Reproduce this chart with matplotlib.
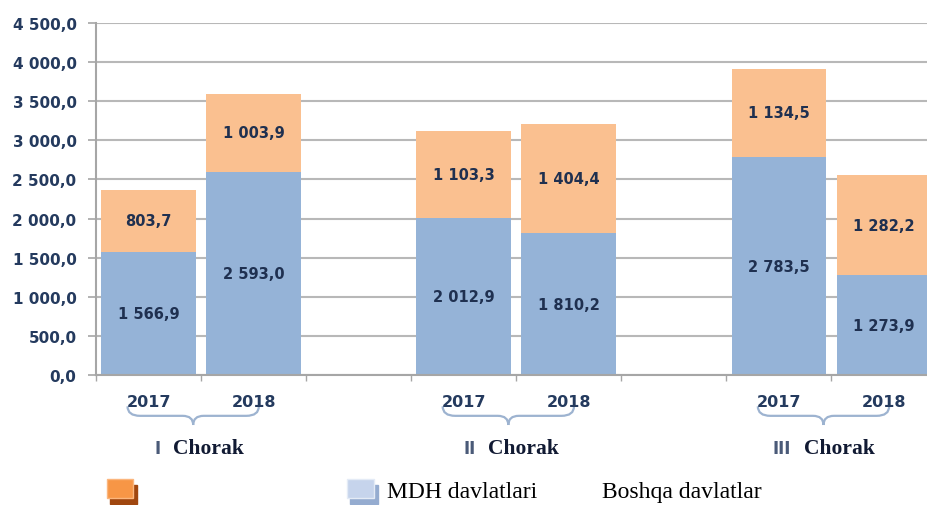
import matplotlib.pyplot as plt
from matplotlib.path import Path
from matplotlib.patches import PathPatch, Rectangle
import numpy as np

# data
quarters = ["I", "II", "III"]
years = ["2017", "2018"]
mdh = [1566.9, 2593.0, 2012.9, 1810.2, 2783.5, 1273.9]
boshqa = [803.7, 1003.9, 1103.3, 1404.4, 1134.5, 1282.2]
slots = [0, 1, 3, 4, 6, 7]
yticks = np.arange(0, 4501, 500)

blue = "#95B3D7"
orange = "#FAC090"
navy = "#1F3050"


def fmt(v):
    s = f"{v:,.1f}".replace(",", " ").replace(".", ",")
    return s


fig = plt.figure(figsize=(9.28, 5.06), dpi=100)
W, H = 928, 506
ax = fig.add_axes([96 / W, 130 / H, (928 - 96) / W, 352 / H])

ax.bar(slots, mdh, width=0.9, color=blue, zorder=2)
ax.bar(slots, boshqa, width=0.9, bottom=mdh, color=orange, zorder=2)

for x, a, b in zip(slots, mdh, boshqa):
    ax.text(x, a / 2, fmt(a), ha="center", va="center", fontsize=10.5,
            fontweight="bold", color=navy, zorder=3)
    ax.text(x, a + b / 2, fmt(b), ha="center", va="center", fontsize=10.5,
            fontweight="bold", color=navy, zorder=3)

ax.set_xlim(-0.5, 7.42)
ax.set_ylim(0, 4500)
ax.set_yticks(yticks)
ax.set_yticklabels([fmt(v) for v in yticks], fontsize=11, fontweight="bold",
                   color="#243A5E")
ax.yaxis.grid(True, color="#B8B8B8", lw=1.5, zorder=0)
ax.set_axisbelow(True)
ax.tick_params(axis="y", length=6, width=1.2, color="#A6A6A6", pad=8)
ax.set_xticks(np.arange(-0.5, 7.5, 1))
ax.set_xticklabels([])
ax.tick_params(axis="x", length=4, width=1, color="#A6A6A6")
for s in ["top", "right"]:
    ax.spines[s].set_visible(False)
ax.spines["left"].set_color("#A6A6A6")
ax.spines["left"].set_linewidth(1.5)
ax.spines["bottom"].set_color("#A6A6A6")
ax.spines["bottom"].set_linewidth(1.5)

tr = ax.get_xaxis_transform()
for i, q in enumerate(quarters):
    c0 = slots[2 * i]
    c1 = slots[2 * i + 1]
    for c, y in zip([c0, c1], years):
        ax.text(c, -0.074, y, transform=tr, ha="center", va="center",
                fontsize=11.5, fontweight="bold", color="#243A5E", clip_on=False)
    # curly brace under the years
    x0, x1 = c0 - 0.2, c1 + 0.05
    xm = (x0 + x1) / 2
    ya, yb, yc = -0.089, -0.116, -0.142
    verts = [(x0, ya), (x0, yb), (x0 + 0.12, yb), (xm - 0.1, yb), (xm, yb), (xm, yc),
             (xm, yb), (xm + 0.1, yb), (x1 - 0.12, yb), (x1, yb), (x1, ya)]
    codes = [Path.MOVETO, Path.CURVE3, Path.CURVE3, Path.LINETO, Path.CURVE3, Path.CURVE3,
             Path.MOVETO, Path.CURVE3, Path.CURVE3, Path.CURVE3, Path.CURVE3]
    verts[6:] = [(xm, yc), (xm, yb), (xm + 0.1, yb), (x1 - 0.12, yb), (x1, yb), (x1, ya)]
    codes[6:] = [Path.MOVETO, Path.CURVE3, Path.CURVE3, Path.LINETO, Path.CURVE3, Path.CURVE3]
    brace = PathPatch(Path(verts, codes), transform=tr, fill=False,
                      edgecolor="#9DB3D0", lw=1.6, clip_on=False)
    ax.add_patch(brace)
    ax.text(xm - 0.31, -0.207, q, transform=tr, ha="right", va="center",
            fontsize=12, fontweight="bold", color="#4A5A78", clip_on=False)
    ax.text(xm - 0.19, -0.207, "Chorak", transform=tr, ha="left", va="center",
            fontsize=15.5, fontweight="bold", family="Liberation Serif",
            color="#111A33", clip_on=False)

# legend-like row at the bottom
fig.patches.append(Rectangle((110 / W, (506 - 505) / H), 27 / W, 19 / H,
                             transform=fig.transFigure, color="#A0470F"))
fig.patches.append(Rectangle((107 / W, (506 - 499) / H), 26 / W, 19 / H,
                             transform=fig.transFigure, color="#F79646",
                             ec="#FBB67E", lw=1))
fig.patches.append(Rectangle((350 / W, (506 - 505) / H), 28 / W, 19 / H,
                             transform=fig.transFigure, color="#95ACD0"))
fig.patches.append(Rectangle((347 / W, (506 - 499) / H), 27 / W, 19 / H,
                             transform=fig.transFigure, color="#C6D4EC",
                             ec="#E4EBF6", lw=1))
fig.text(387 / W, (506 - 493) / H, "MDH davlatlari", ha="left", va="center",
         fontsize=17, family="Liberation Serif", color="black")
fig.text(602 / W, (506 - 493) / H, "Boshqa davlatlar", ha="left", va="center",
         fontsize=17, family="Liberation Serif", color="black")

fig.savefig("out.png", dpi=100)
